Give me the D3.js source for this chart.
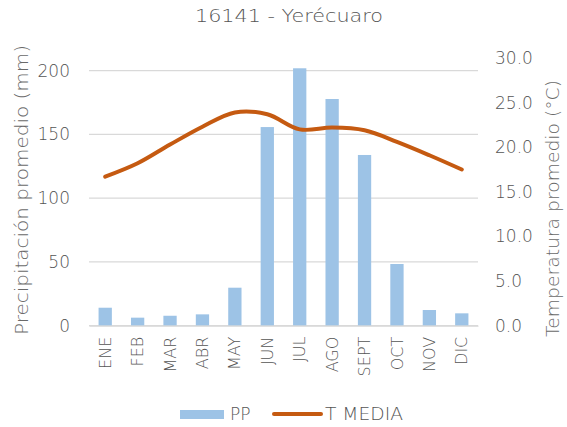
<!DOCTYPE html>
<html lang="es">
<head>
<meta charset="UTF-8"/>
<title>16141 - Yerécuaro</title>
<script src="https://d3js.org/d3.v7.min.js"></script>
<style>
    body { margin: 0; background: white; }
    text { font-family: "DejaVu Sans", sans-serif; fill: #555555; }
    .light { fill: #6a6a6a; }
</style>
</head>
<body>
<div id="chart"></div>
<script>
    const months = ["ENE", "FEB", "MAR", "ABR", "MAY", "JUN", "JUL", "AGO", "SEPT", "OCT", "NOV", "DIC"];
    const pp = [14.1, 6.3, 7.8, 8.9, 29.8, 155.8, 201.9, 177.8, 133.9, 48.4, 12.3, 9.7];
    const tMedia = [16.7, 18.2, 20.3, 22.3, 23.9, 23.7, 22.0, 22.2, 21.9, 20.6, 19.1, 17.5];
    const leftTicks = [0, 50, 100, 150, 200];
    const rightTicks = [0, 5, 10, 15, 20, 25, 30];

    const width = 567;
    const height = 427;

    const svg = d3.select("#chart")
        .append("svg")
        .attr("width", width)
        .attr("height", height);

    const plot = {left: 89, right: 478, top: 70.7, bottom: 325.7};

    const x = d3.scaleBand().domain(months).range([plot.left, plot.right]).paddingInner(0.59).paddingOuter(0.295);
    const xc = d3.scaleBand().domain(months).range([plot.left, plot.right]);
    const yL = d3.scaleLinear().domain([0, 200]).range([plot.bottom, plot.top]);
    const yR = d3.scaleLinear().domain([0, 30]).range([plot.bottom, 58]);

    // gridlines
    svg.append("g")
        .selectAll("line")
        .data(leftTicks)
        .join("line")
        .attr("x1", plot.left)
        .attr("x2", plot.right)
        .attr("y1", d => yL(d))
        .attr("y2", d => yL(d))
        .attr("stroke", "#d9d9d9")
        .attr("stroke-width", 1.3);

    // left axis
    const leftAxis = svg.append("g")
        .attr("transform", `translate(${plot.left}, 0)`)
        .call(d3.axisLeft(yL).tickValues(leftTicks).tickSize(0).tickPadding(19));
    leftAxis.select(".domain").remove();
    leftAxis.selectAll("text").style("font-size", "17px").style("font-weight", 300).attr("fill", null);

    // right axis
    const rightAxis = svg.append("g")
        .attr("transform", `translate(${plot.right}, 0)`)
        .call(d3.axisRight(yR).tickValues(rightTicks).tickFormat(d3.format(".1f")).tickSize(0).tickPadding(17));
    rightAxis.select(".domain").remove();
    rightAxis.selectAll("text").style("font-size", "17px").style("font-weight", 300).attr("fill", null);

    // bars
    svg.append("g")
        .selectAll("rect")
        .data(months)
        .join("rect")
        .attr("x", d => x(d))
        .attr("width", x.bandwidth())
        .attr("y", (d, i) => yL(pp[i]))
        .attr("height", (d, i) => yL(0) - yL(pp[i]))
        .attr("fill", "#9dc3e6");

    // x axis
    const bottomAxis = svg.append("g")
        .attr("transform", `translate(0, ${plot.bottom})`)
        .call(d3.axisBottom(xc).tickSize(0).tickPadding(0));
    bottomAxis.select(".domain").attr("stroke", "#d9d9d9").attr("stroke-width", 1.3);
    bottomAxis.selectAll("text")
        .style("font-size", "16px")
        .style("font-weight", 300)
        .attr("fill", null)
        .attr("text-anchor", "end")
        .attr("dy", "0.35em")
        .attr("transform", "translate(0, 11) rotate(-90)");

    // temperature line
    const line = d3.line()
        .x((d, i) => xc(months[i]) + xc.bandwidth() / 2)
        .y(d => yR(d))
        .curve(d3.curveCatmullRom.alpha(0.5));

    svg.append("path")
        .attr("d", line(tMedia))
        .attr("fill", "none")
        .attr("stroke", "#c55a11")
        .attr("stroke-width", 4)
        .attr("stroke-linecap", "round");

    // title
    svg.append("text")
        .attr("x", 289)
        .attr("y", 22)
        .attr("text-anchor", "middle")
        .attr("textLength", 188)
        .attr("lengthAdjust", "spacingAndGlyphs")
        .style("font-size", "18px")
        .style("font-weight", 300)
        .text("16141 - Yerécuaro");

    // axis titles
    svg.append("text")
        .attr("class", "light")
        .attr("transform", `translate(28, ${(45 + 335) / 2}) rotate(-90)`)
        .attr("text-anchor", "middle")
        .attr("textLength", 290)
        .attr("lengthAdjust", "spacingAndGlyphs")
        .style("font-size", "17px")
        .style("font-weight", 300)
        .text("Precipitación promedio (mm)");

    svg.append("text")
        .attr("class", "light")
        .attr("transform", `translate(547, ${(80 + 337) / 2}) rotate(-90)`)
        .attr("text-anchor", "middle")
        .attr("dy", "0.7em")
        .attr("textLength", 257)
        .attr("lengthAdjust", "spacingAndGlyphs")
        .style("font-size", "17px")
        .style("font-weight", 300)
        .text("Temperatura promedio (°C)");

    // legend
    const legend = svg.append("g");
    legend.append("rect")
        .attr("x", 180).attr("y", 410)
        .attr("width", 44).attr("height", 9)
        .attr("fill", "#9dc3e6");
    legend.append("text")
        .attr("x", 230).attr("y", 414)
        .attr("dy", "0.35em")
        .style("font-size", "17px")
        .style("font-weight", 300)
        .text("PP");
    legend.append("line")
        .attr("x1", 274).attr("x2", 321)
        .attr("y1", 414).attr("y2", 414)
        .attr("stroke", "#c55a11")
        .attr("stroke-width", 4)
        .attr("stroke-linecap", "round");
    legend.append("text")
        .attr("x", 325).attr("y", 414)
        .attr("dy", "0.35em")
        .attr("textLength", 78)
        .attr("lengthAdjust", "spacingAndGlyphs")
        .style("font-size", "17px")
        .style("font-weight", 300)
        .text("T MEDIA");
</script>
</body>
</html>
